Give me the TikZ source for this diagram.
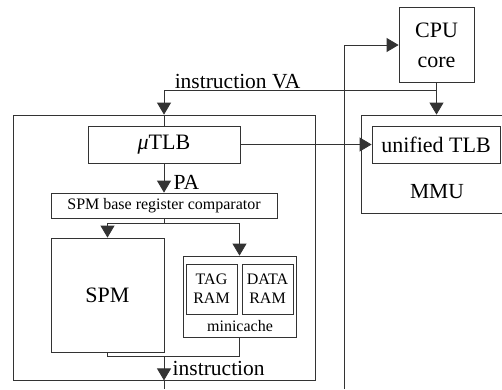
\documentclass[tikz,border=0pt]{standalone}
\usepackage{fontspec}
\setmainfont{Liberation Serif}
\usetikzlibrary{arrows.meta}

\begin{document}
\begin{tikzpicture}[
    x=1pt, y=-1pt,
    line width=0.8pt,
    blk/.style={draw=black!80, rectangle, inner sep=0pt, align=center, font=\fontsize{22}{30}\selectfont},
    sml/.style={draw=black!80, rectangle, inner sep=0pt, align=center, font=\fontsize{16}{19}\selectfont},
    lbl/.style={font=\fontsize{21.5}{24}\selectfont},
    slbl/.style={font=\fontsize{16}{19}\selectfont},
    arr/.style={draw=black!80, -{Triangle[width=14pt,length=12pt]}},
    wire/.style={draw=black!80}
]
\useasboundingbox (0,0) rectangle (502,389);

\node[blk, minimum width=75pt, minimum height=75pt] (cpu) at (436.5,45) {CPU\\core};
\node[blk, minimum width=151pt, minimum height=98pt] (mmu) at (436.5,164) {};
\node[blk, minimum width=128pt, minimum height=37pt] (utd) at (436,144.5) {unified TLB};
\node[lbl] (mmulbl) at (437,192) {MMU};

\node[blk, minimum width=302pt, minimum height=265pt] (ic) at (164,247.5) {};
\node[blk, minimum width=152pt, minimum height=37pt] (utlb) at (164,144.5) {\textit{μ}TLB};
\node[sml, minimum width=226pt, minimum height=25pt] (comp) at (164,205.5) {SPM base register comparator};
\node[blk, minimum width=113pt, minimum height=114pt] (spm) at (107.5,295) {SPM};
\node[sml, minimum width=113pt, minimum height=81pt] (mini) at (239.5,296.5) {};
\node[sml, minimum width=51pt, minimum height=50pt] (tag) at (211.5,289) {TAG\\RAM};
\node[sml, minimum width=51pt, minimum height=50pt] (data) at (267.5,289) {DATA\\RAM};
\node[slbl] (minilbl) at (240,326) {minicache};

\coordinate (vabr) at (436.5,90);
\coordinate (split) at (164,223);
\coordinate (join) at (164,356);
\coordinate (out) at (164,389);
\coordinate (bus) at (344,389);

\draw[arr] (cpu.south) -- (mmu.north);
\draw[arr] (vabr) -| (ic.north);
\path (vabr) -- node[lbl, above=-3pt, pos=0.73] (valbl) {instruction VA} (ic.north |- vabr);
\draw[wire] (ic.north) -- (utlb.north);
\draw[arr] (utlb.east) -- (utd.west);
\draw[arr] (utlb.south) -- node[lbl, right=6pt, pos=0.65] (palbl) {PA} (comp.north);
\draw[wire] (comp.south) -- (split);
\draw[arr] (split) -| (spm.north);
\draw[arr] (split) -| (mini.north);
\draw[wire] (spm.south) |- (join);
\draw[wire] (mini.south) |- (join);
\draw[arr] (join) -- node[lbl, right=5pt] (inslbl) {instruction} (ic.south);
\draw[wire] (ic.south) -- (out);
\draw[arr] (bus) |- (cpu.west);

\end{tikzpicture}
\end{document}
